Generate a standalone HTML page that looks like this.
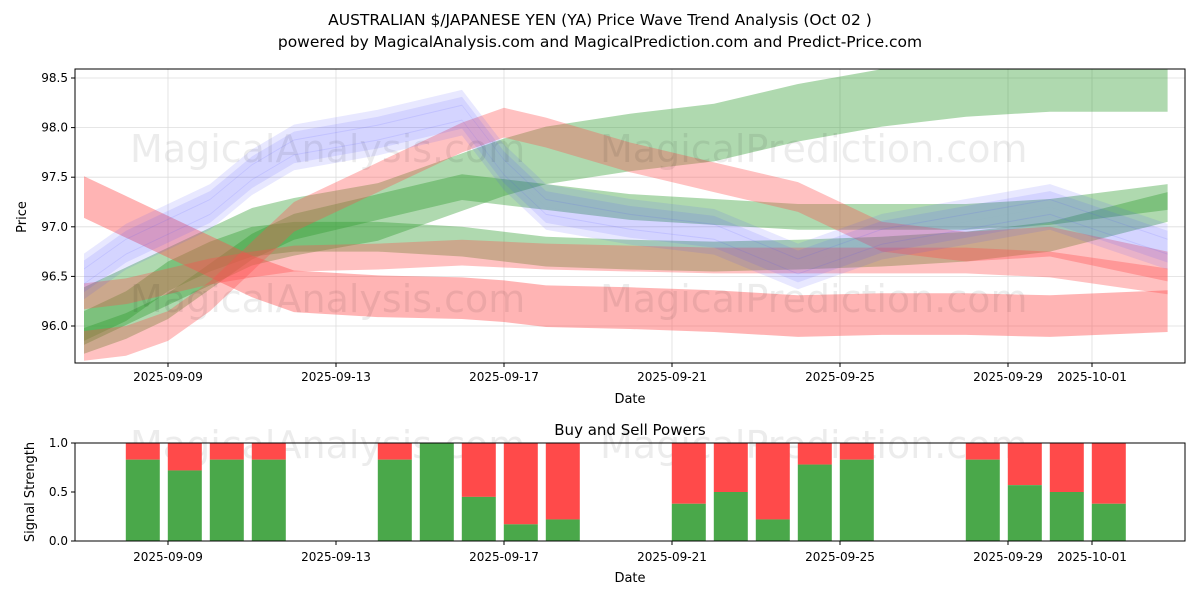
<!DOCTYPE html>
<html><head><meta charset="utf-8">
<style>
body{margin:0;background:#fff;font-family:"Liberation Sans","DejaVu Sans",sans-serif;}
svg text{font-family:"DejaVu Sans","Liberation Sans",sans-serif;}
</style></head>
<body>
<svg id="chart" width="1200" height="600" xmlns="http://www.w3.org/2000/svg">
<rect width="1200" height="600" fill="#fff"/>
<text x="600" y="25" text-anchor="middle" font-size="15.5">AUSTRALIAN $/JAPANESE YEN (YA) Price Wave Trend Analysis (Oct 02 )</text>
<text x="600" y="47" text-anchor="middle" font-size="15.5">powered by MagicalAnalysis.com and MagicalPrediction.com and Predict-Price.com</text>
<defs>
<clipPath id="c1"><rect x="75" y="69" width="1110" height="294"/></clipPath>
</defs>
<g id="grid1"></g>
<g id="bands" clip-path="url(#c1)"></g>
<g font-size="38" fill="#000" opacity="0.07">
<text x="130" y="162">MagicalAnalysis.com</text><text x="600" y="162">MagicalPrediction.com</text>
<text x="130" y="312">MagicalAnalysis.com</text><text x="600" y="312">MagicalPrediction.com</text>
<text x="130" y="458">MagicalAnalysis.com</text><text x="600" y="458">MagicalPrediction.com</text>
</g>
<rect x="75" y="69" width="1110" height="294" fill="none" stroke="#000"/>
<g id="ax1"></g>
<text x="630" y="403" text-anchor="middle" font-size="13">Date</text>
<text x="26" y="217" text-anchor="middle" font-size="13" transform="rotate(-90 26 217)">Price</text>
<text x="630" y="435" text-anchor="middle" font-size="15">Buy and Sell Powers</text>
<g id="bars"></g>
<rect x="75" y="443" width="1110" height="98" fill="none" stroke="#000"/>
<g id="ax2"></g>
<text x="630" y="582" text-anchor="middle" font-size="13">Date</text>
<text x="34" y="492" text-anchor="middle" font-size="13" transform="rotate(-90 34 492)">Signal Strength</text>
</svg>
<script>
const tickLabels=["2025-09-09","2025-09-13","2025-09-17","2025-09-21","2025-09-25","2025-09-29","2025-10-01"];
const tickDays=[0,4,8,12,16,20,22];
const yTicks=[96.0,96.5,97.0,97.5,98.0,98.5];
const days=[-2,-1,0,1,2,3,5,7,8,9,11,13,15,17,19,21,23.8];
const red1=[97.3,97.1,96.9,96.7,96.5,96.35,96.3,96.28,96.25,96.2,96.18,96.15,96.1,96.12,96.12,96.1,96.15];
const red2=[95.8,95.85,96.0,96.3,96.7,97.1,97.5,97.9,98.05,97.95,97.7,97.5,97.3,96.9,96.8,96.85,96.6];
const red3=[96.3,96.35,96.45,96.55,96.62,96.68,96.7,96.74,96.72,96.7,96.68,96.66,96.66,96.66,96.66,96.62,96.45];
const green1=[96.1,96.3,96.5,96.7,96.9,97.0,97.15,97.45,97.6,97.72,97.85,97.95,98.15,98.3,98.4,98.45,98.45];
const green2=[96.0,96.2,96.5,96.7,96.85,96.9,96.9,96.85,96.8,96.75,96.72,96.7,96.72,96.75,96.8,96.9,97.2];
const green3=[95.85,96.0,96.2,96.5,96.8,97.0,97.2,97.4,97.35,97.3,97.2,97.15,97.1,97.1,97.1,97.15,97.3];
const blue1=[96.5,96.8,97.0,97.2,97.55,97.8,97.95,98.15,97.6,97.2,97.05,96.95,96.6,96.9,97.05,97.2,96.8];
const barDays=[-0.6,0.4,1.4,2.4,5.4,6.4,7.4,8.4,9.4,12.4,13.4,14.4,15.4,16.4,19.4,20.4,21.4,22.4];
const buyVals=[0.83,0.72,0.83,0.83,0.83,1.0,0.45,0.17,0.22,0.38,0.5,0.22,0.78,0.83,0.83,0.57,0.5,0.38];

const NS="http://www.w3.org/2000/svg";
const X=d=>168+42*d;
const Y=v=>326-(v-96)*99.2;
const Y2=v=>541-v*98;
function mk(tag,attrs,parent){const e=document.createElementNS(NS,tag);for(const k in attrs)e.setAttribute(k,attrs[k]);document.getElementById(parent).appendChild(e);return e;}

tickDays.forEach((d,i)=>{
  const g=mk('line',{x1:X(d),x2:X(d),y1:69,y2:363,stroke:'#ddd','stroke-width':0.8},'grid1');
  
  
  [[363,'ax1',381],[541,'ax2',561]].forEach(([yy,p,ty])=>{
    const t=mk('line',{x1:X(d),x2:X(d),y1:yy,y2:yy+4,stroke:'#000'},p);
    
    
    const tx=mk('text',{x:X(d),y:ty,'text-anchor':'middle','font-size':12},p);
    tx.textContent=tickLabels[i];
    
    
  });
});
yTicks.forEach(v=>{
  const g=mk('line',{x1:75,x2:1185,y1:Y(v),y2:Y(v),stroke:'#ddd','stroke-width':0.8},'grid1');
  
  
  const t=mk('line',{x1:71,x2:75,y1:Y(v),y2:Y(v),stroke:'#000'},'ax1');
  
  
  const tx=mk('text',{x:68,y:Y(v)+4,'text-anchor':'end','font-size':12},'ax1');
  tx.textContent=v.toFixed(1);
  
  
});
[0,0.5,1.0].forEach(v=>{
  const t=mk('line',{x1:71,x2:75,y1:Y2(v),y2:Y2(v),stroke:'#000'},'ax2');
  
  
  const tx=mk('text',{x:68,y:Y2(v)+4,'text-anchor':'end','font-size':12},'ax2');
  tx.textContent=v.toFixed(1);
  
  
});

function band(vals,w,color,op,name,off){
  const top=days.map((d,i)=>X(d)+','+Y(vals[i]+off+w/2));
  const bot=days.map((d,i)=>X(d)+','+Y(vals[i]+off-w/2)).reverse();
  const p=mk('polygon',{points:top.concat(bot).join(' '),fill:color,opacity:op},'bands');
  
  
}
band(green1,0.58,'#2e9a2e',0.38,'green-band-1',0);
band(green2,0.3,'#2e9a2e',0.38,'green-band-2',0);
band(green3,0.26,'#2e9a2e',0.38,'green-band-3',0);
band(red1,0.42,'#ff4d4d',0.42,'red-band-1',0);
band(red2,0.3,'#ff4d4d',0.35,'red-band-2',0);
band(red3,0.26,'#ff4d4d',0.35,'red-band-3',0);
[-0.15,-0.08,0,0.08,0.15].forEach((o,i)=>band(blue1,0.16,'#5050ff',0.13,'blue-band-'+(i+1),o));

barDays.forEach((d,i)=>{
  const x=X(d)-17;
  const s=mk('rect',{x:x,y:Y2(1),width:34,height:Y2(buyVals[i])-Y2(1),fill:'#ff4a4a'},'bars');
  
  
  const b=mk('rect',{x:x,y:Y2(buyVals[i]),width:34,height:Y2(0)-Y2(buyVals[i]),fill:'#4aa84a'},'bars');
  
  
});
</script>
</body></html>
